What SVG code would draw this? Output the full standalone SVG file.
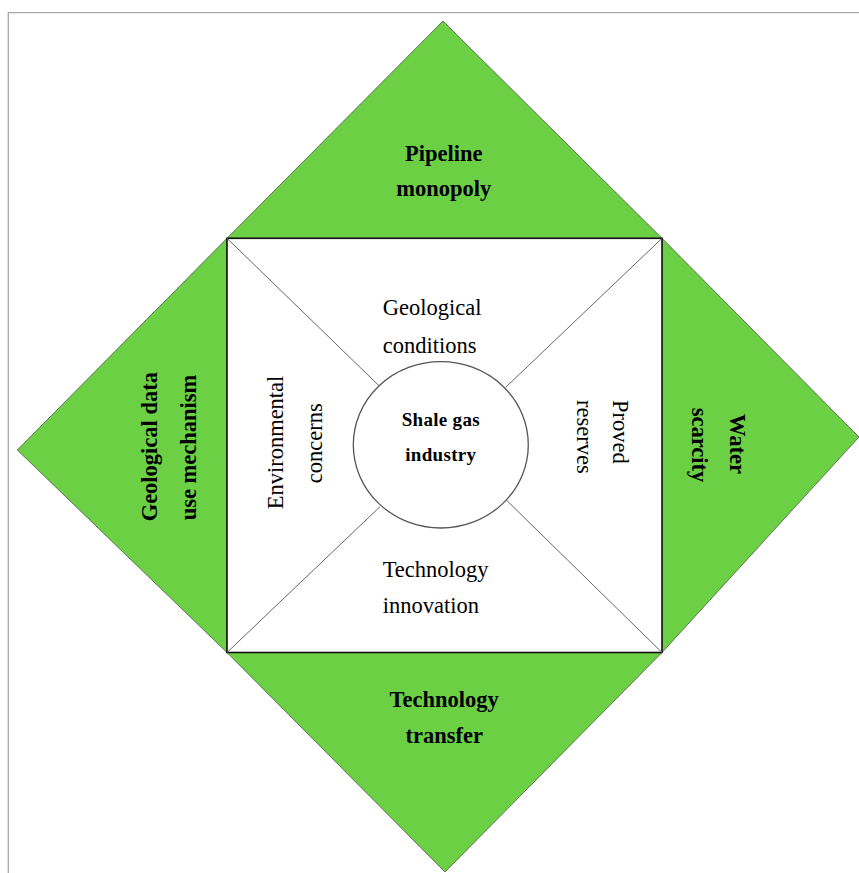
<svg xmlns="http://www.w3.org/2000/svg" width="859" height="873" viewBox="0 0 859 873">
<style>
  .tri { fill: #6CD045; stroke: #4a5a44; stroke-width: 0.8; }
  .t { font-family: "Liberation Serif", "Times New Roman", serif; font-size: 22.5px; fill: #000; }
  .b { font-weight: bold; }
  .m { text-anchor: middle; }
  .sq { fill: #fff; stroke: #111; stroke-width: 1.6; }
  .div { stroke: #666; stroke-width: 1; fill: none; }
  .circ { fill: #fff; stroke: #555; stroke-width: 1.3; }
  .frame { stroke: #A8A8A8; stroke-width: 1.3; fill: none; }
</style>
<rect width="859" height="873" fill="#fff"/>
<path class="frame" d="M8.3,873 V12.7 H859"/>

<g id="node-pipeline">
  <polygon class="tri" points="443,21 662,238.3 227,238.3"/>
  <text class="t b m" x="443.8" y="160.5">Pipeline</text>
  <text class="t b m" x="443.8" y="196">monopoly</text>
</g>
<g id="node-water">
  <polygon class="tri" points="662,238.3 859,437 662,652.5"/>
  <text class="t b m" transform="translate(730,444) rotate(90)">Water</text>
  <text class="t b m" transform="translate(692,445) rotate(90)">scarcity</text>
</g>
<g id="node-transfer">
  <polygon class="tri" points="227,652.5 662,652.5 445,872"/>
  <text class="t b m" x="444.2" y="706.7">Technology</text>
  <text class="t b m" x="444.2" y="743.3">transfer</text>
</g>
<g id="node-geodata">
  <polygon class="tri" points="227,238.3 17.3,450 227,652.5"/>
  <text class="t b m" transform="translate(157,446.7) rotate(-90)">Geological data</text>
  <text class="t b m" transform="translate(196,447.5) rotate(-90)">use mechanism</text>
</g>

<g id="square">
  <rect class="sq" x="227" y="238.3" width="435" height="414.2"/>
</g>

<g id="connectors">
  <line class="div" x1="227" y1="238.3" x2="379.3" y2="386"/>
  <line class="div" x1="662" y1="238.3" x2="505.7" y2="387.3"/>
  <line class="div" x1="227" y1="652.5" x2="380" y2="506.7"/>
  <line class="div" x1="662" y1="652.5" x2="506.3" y2="500"/>
</g>

<g id="node-geological-conditions">
  <text class="t" x="382.7" y="315">Geological</text>
  <text class="t" x="382.7" y="352.7">conditions</text>
</g>
<g id="node-proved-reserves">
  <text class="t" transform="translate(613.3,400) rotate(90)">Proved</text>
  <text class="t" transform="translate(576.7,400) rotate(90)">reserves</text>
</g>
<g id="node-technology-innovation">
  <text class="t" x="382.7" y="576.7">Technology</text>
  <text class="t" x="382.7" y="613.3">innovation</text>
</g>
<g id="node-environmental">
  <text class="t m" transform="translate(283.3,442.5) rotate(-90)">Environmental</text>
  <text class="t m" transform="translate(321.7,443.3) rotate(-90)">concerns</text>
</g>

<g id="node-shale-gas">
  <ellipse class="circ" cx="440.8" cy="444.8" rx="87.5" ry="83.2"/>
  <text class="t b m" style="font-size:19px;letter-spacing:0.3px" x="440.8" y="426">Shale gas</text>
  <text class="t b m" style="font-size:19px;letter-spacing:0.3px" x="440.8" y="460.7">industry</text>
</g>
</svg>
